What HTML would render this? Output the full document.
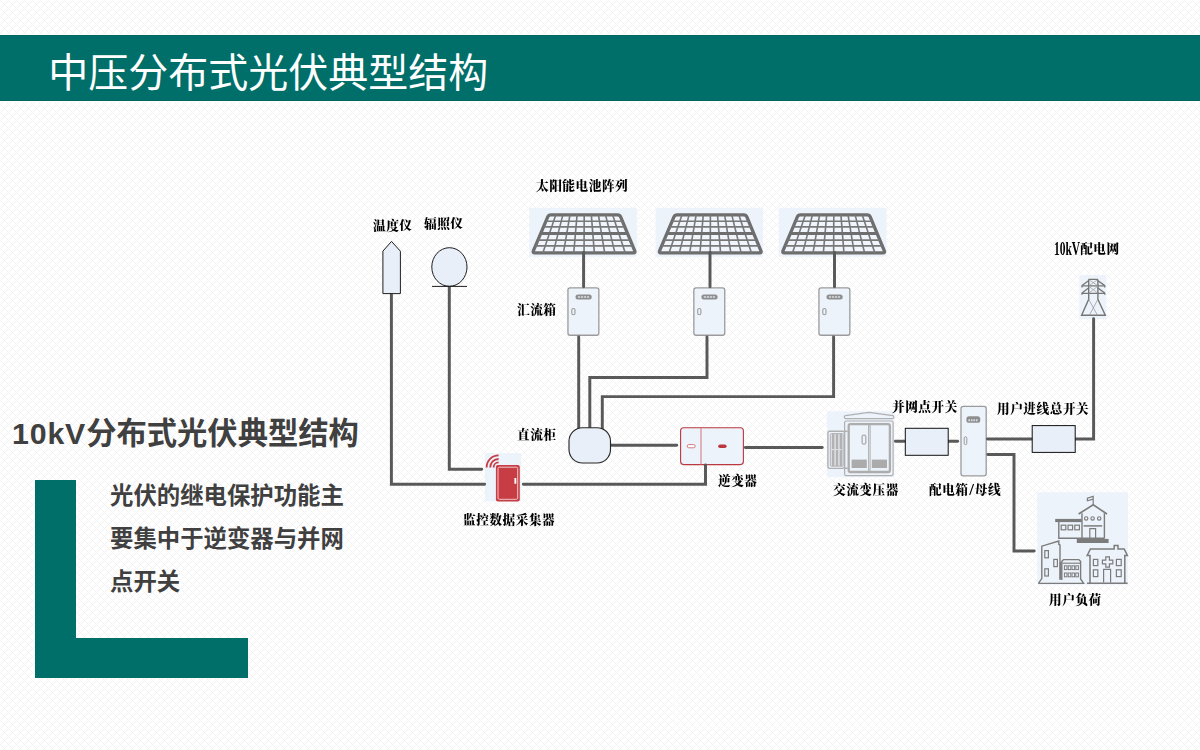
<!DOCTYPE html>
<html lang="zh-CN">
<head>
<meta charset="utf-8">
<title>中压分布式光伏典型结构</title>
<style>
html,body{margin:0;padding:0;}
body{width:1200px;height:750px;overflow:hidden;background:#fff;position:relative;
  font-family:"Liberation Sans","Noto Sans CJK SC",sans-serif;}
#bg{position:absolute;left:0;top:0;width:1200px;height:750px;}
#titlebar{position:absolute;left:0;top:34px;width:1200px;height:66px;background:#006f69;border-top:1px solid #fff;border-bottom:1px solid #fff;box-shadow:inset 0 1px 0 #00665f, inset 0 -1px 0 #00665f;}
#title{position:absolute;left:48.3px;top:37.3px;height:66px;line-height:72px;font-size:40px;color:#fff;white-space:nowrap;}
#heading{position:absolute;left:12px;top:412.3px;font-size:30.3px;line-height:44px;font-weight:700;color:#404040;white-space:nowrap;}
#heading span{letter-spacing:0.85px;}
#body{position:absolute;left:110px;top:474.5px;width:240px;font-size:23.4px;line-height:43px;font-weight:700;color:#404040;}
#body div{white-space:nowrap;}
.lv{position:absolute;left:35px;top:480px;width:41px;height:198px;background:#006f69;}
.lh{position:absolute;left:35px;top:638px;width:213px;height:40px;background:#006f69;}
.seam{position:absolute;background:rgba(255,255,255,.85);}
#diagram{position:absolute;left:0;top:0;width:1200px;height:750px;}
.lb{position:absolute;will-change:transform;font-family:"Liberation Serif","Noto Serif CJK SC",serif;font-weight:900;font-size:12.7px;letter-spacing:0.5px;line-height:16px;color:#000;white-space:nowrap;}
.kv{display:inline-block;width:26.2px;height:16px;vertical-align:top;font-size:18.5px;line-height:17.6px;letter-spacing:0;transform:scaleX(0.62);transform-origin:0 0;white-space:nowrap;}
.sl{display:inline-block;width:6.2px;height:16px;vertical-align:top;font-size:17px;line-height:15px;letter-spacing:0;text-align:center;}
</style>
</head>
<body>
<svg id="bg" width="1200" height="750" viewBox="0 0 1200 750" shape-rendering="crispEdges">
  <defs>
    <pattern id="hatch" width="8" height="8" patternUnits="userSpaceOnUse">
      <path d="M0 0h1v1h-1zM1 1h1v1h-1zM2 2h1v1h-1zM3 3h1v1h-1zM4 4h1v1h-1zM5 5h1v1h-1zM6 6h1v1h-1zM7 7h1v1h-1zM1 7h1v1h-1zM2 6h1v1h-1zM3 5h1v1h-1zM5 3h1v1h-1zM6 2h1v1h-1zM7 1h1v1h-1z" fill="#f2f2f2"/>
    </pattern>
  </defs>
  <rect width="1200" height="750" fill="#fff"/>
  <rect width="1200" height="750" fill="url(#hatch)"/>
</svg>
<div class="seam" style="left:675px;top:678px;width:525px;height:1px"></div>
<div class="seam" style="left:675px;top:726px;width:525px;height:1px"></div>
<div class="seam" style="left:675px;top:678px;width:1px;height:49px"></div>
<div id="titlebar"></div>
<div id="title">中压分布式光伏典型结构</div>
<div id="heading"><span>10kV</span>分布式光伏典型结构</div>
<div class="lv"></div><div class="lh"></div>
<div id="body"><div>光伏的继电保护功能主</div><div>要集中于逆变器与并网</div><div>点开关</div></div>
<svg id="diagram" width="1200" height="750" viewBox="0 0 1200 750">
<g transform="translate(529.8,207.8)">
<rect x="-0.5" y="-0.1" width="107.6" height="49.1" fill="#edf3fb"/>
<path d="M17.94 9.13Q18.80 7.10 21.00 7.10L87.80 7.10Q90.00 7.10 90.84 9.13L104.96 43.07Q105.80 45.10 103.60 45.10L4.90 45.10Q2.70 45.10 3.56 43.07Z" fill="#f0f5fc" stroke="#6e6e6e" stroke-width="3.3" stroke-linejoin="round"/>
<line x1="25.92" y1="7.1" x2="13.01" y2="45.1" stroke="#787878" stroke-width="1.6"/>
<line x1="33.04" y1="7.1" x2="23.32" y2="45.1" stroke="#787878" stroke-width="1.6"/>
<line x1="40.16" y1="7.1" x2="33.63" y2="45.1" stroke="#787878" stroke-width="1.6"/>
<line x1="47.28" y1="7.1" x2="43.94" y2="45.1" stroke="#787878" stroke-width="1.6"/>
<line x1="54.40" y1="7.1" x2="54.25" y2="45.1" stroke="#787878" stroke-width="1.6"/>
<line x1="61.52" y1="7.1" x2="64.56" y2="45.1" stroke="#787878" stroke-width="1.6"/>
<line x1="68.64" y1="7.1" x2="74.87" y2="45.1" stroke="#787878" stroke-width="1.6"/>
<line x1="75.76" y1="7.1" x2="85.18" y2="45.1" stroke="#787878" stroke-width="1.6"/>
<line x1="82.88" y1="7.1" x2="95.49" y2="45.1" stroke="#787878" stroke-width="1.6"/>
<line x1="16.13" y1="13.4" x2="92.62" y2="13.4" stroke="#787878" stroke-width="1.6"/>
<line x1="13.76" y1="19.0" x2="94.95" y2="19.0" stroke="#787878" stroke-width="1.7"/>
<line x1="10.92" y1="25.7" x2="97.73" y2="25.7" stroke="#6e6e6e" stroke-width="3.1"/>
<line x1="8.12" y1="32.3" x2="100.48" y2="32.3" stroke="#787878" stroke-width="1.6"/>
<line x1="5.71" y1="38.0" x2="102.85" y2="38.0" stroke="#787878" stroke-width="1.7"/>
</g>
<g transform="translate(656.0,207.8)">
<rect x="-0.5" y="-0.1" width="107.6" height="49.1" fill="#edf3fb"/>
<path d="M17.94 9.13Q18.80 7.10 21.00 7.10L87.80 7.10Q90.00 7.10 90.84 9.13L104.96 43.07Q105.80 45.10 103.60 45.10L4.90 45.10Q2.70 45.10 3.56 43.07Z" fill="#f0f5fc" stroke="#6e6e6e" stroke-width="3.3" stroke-linejoin="round"/>
<line x1="25.92" y1="7.1" x2="13.01" y2="45.1" stroke="#787878" stroke-width="1.6"/>
<line x1="33.04" y1="7.1" x2="23.32" y2="45.1" stroke="#787878" stroke-width="1.6"/>
<line x1="40.16" y1="7.1" x2="33.63" y2="45.1" stroke="#787878" stroke-width="1.6"/>
<line x1="47.28" y1="7.1" x2="43.94" y2="45.1" stroke="#787878" stroke-width="1.6"/>
<line x1="54.40" y1="7.1" x2="54.25" y2="45.1" stroke="#787878" stroke-width="1.6"/>
<line x1="61.52" y1="7.1" x2="64.56" y2="45.1" stroke="#787878" stroke-width="1.6"/>
<line x1="68.64" y1="7.1" x2="74.87" y2="45.1" stroke="#787878" stroke-width="1.6"/>
<line x1="75.76" y1="7.1" x2="85.18" y2="45.1" stroke="#787878" stroke-width="1.6"/>
<line x1="82.88" y1="7.1" x2="95.49" y2="45.1" stroke="#787878" stroke-width="1.6"/>
<line x1="16.13" y1="13.4" x2="92.62" y2="13.4" stroke="#787878" stroke-width="1.6"/>
<line x1="13.76" y1="19.0" x2="94.95" y2="19.0" stroke="#787878" stroke-width="1.7"/>
<line x1="10.92" y1="25.7" x2="97.73" y2="25.7" stroke="#6e6e6e" stroke-width="3.1"/>
<line x1="8.12" y1="32.3" x2="100.48" y2="32.3" stroke="#787878" stroke-width="1.6"/>
<line x1="5.71" y1="38.0" x2="102.85" y2="38.0" stroke="#787878" stroke-width="1.7"/>
</g>
<g transform="translate(779.4,207.8)">
<rect x="-0.5" y="-0.1" width="107.6" height="49.1" fill="#edf3fb"/>
<path d="M17.94 9.13Q18.80 7.10 21.00 7.10L87.80 7.10Q90.00 7.10 90.84 9.13L104.96 43.07Q105.80 45.10 103.60 45.10L4.90 45.10Q2.70 45.10 3.56 43.07Z" fill="#f0f5fc" stroke="#6e6e6e" stroke-width="3.3" stroke-linejoin="round"/>
<line x1="25.92" y1="7.1" x2="13.01" y2="45.1" stroke="#787878" stroke-width="1.6"/>
<line x1="33.04" y1="7.1" x2="23.32" y2="45.1" stroke="#787878" stroke-width="1.6"/>
<line x1="40.16" y1="7.1" x2="33.63" y2="45.1" stroke="#787878" stroke-width="1.6"/>
<line x1="47.28" y1="7.1" x2="43.94" y2="45.1" stroke="#787878" stroke-width="1.6"/>
<line x1="54.40" y1="7.1" x2="54.25" y2="45.1" stroke="#787878" stroke-width="1.6"/>
<line x1="61.52" y1="7.1" x2="64.56" y2="45.1" stroke="#787878" stroke-width="1.6"/>
<line x1="68.64" y1="7.1" x2="74.87" y2="45.1" stroke="#787878" stroke-width="1.6"/>
<line x1="75.76" y1="7.1" x2="85.18" y2="45.1" stroke="#787878" stroke-width="1.6"/>
<line x1="82.88" y1="7.1" x2="95.49" y2="45.1" stroke="#787878" stroke-width="1.6"/>
<line x1="16.13" y1="13.4" x2="92.62" y2="13.4" stroke="#787878" stroke-width="1.6"/>
<line x1="13.76" y1="19.0" x2="94.95" y2="19.0" stroke="#787878" stroke-width="1.7"/>
<line x1="10.92" y1="25.7" x2="97.73" y2="25.7" stroke="#6e6e6e" stroke-width="3.1"/>
<line x1="8.12" y1="32.3" x2="100.48" y2="32.3" stroke="#787878" stroke-width="1.6"/>
<line x1="5.71" y1="38.0" x2="102.85" y2="38.0" stroke="#787878" stroke-width="1.7"/>
</g>
<g transform="translate(567.3,287.2)">
<rect x="0.65" y="0.65" width="30.9" height="47.4" rx="2.2" fill="#edf3fb" stroke="#9b9b9b" stroke-width="1.3"/>
<rect x="8.2" y="7.4" width="16.2" height="5" rx="2.5" fill="#8e8e8e"/>
<path d="M10.6 9.9h11.4" stroke="#d9dde2" stroke-width="1.5" stroke-dasharray="2.2 0.8" fill="none"/>
<rect x="4.5" y="21.3" width="3.2" height="6.3" rx="1.6" fill="#edf3fb" stroke="#9b9b9b" stroke-width="1.1"/>
</g>
<g transform="translate(693.2,287.2)">
<rect x="0.65" y="0.65" width="30.9" height="47.4" rx="2.2" fill="#edf3fb" stroke="#9b9b9b" stroke-width="1.3"/>
<rect x="8.2" y="7.4" width="16.2" height="5" rx="2.5" fill="#8e8e8e"/>
<path d="M10.6 9.9h11.4" stroke="#d9dde2" stroke-width="1.5" stroke-dasharray="2.2 0.8" fill="none"/>
<rect x="4.5" y="21.3" width="3.2" height="6.3" rx="1.6" fill="#edf3fb" stroke="#9b9b9b" stroke-width="1.1"/>
</g>
<g transform="translate(818.3,287.2)">
<rect x="0.65" y="0.65" width="30.9" height="47.4" rx="2.2" fill="#edf3fb" stroke="#9b9b9b" stroke-width="1.3"/>
<rect x="8.2" y="7.4" width="16.2" height="5" rx="2.5" fill="#8e8e8e"/>
<path d="M10.6 9.9h11.4" stroke="#d9dde2" stroke-width="1.5" stroke-dasharray="2.2 0.8" fill="none"/>
<rect x="4.5" y="21.3" width="3.2" height="6.3" rx="1.6" fill="#edf3fb" stroke="#9b9b9b" stroke-width="1.1"/>
</g>
<g>
<rect x="484.7" y="453" width="36.3" height="48.3" fill="#edf3fb"/>
<path d="M486.6 467.4A12 12 0 0 1 498.6 455.4" fill="none" stroke="#c83c44" stroke-width="1.8" stroke-linecap="butt"/>
<path d="M490.2 467.4A8.4 8.4 0 0 1 498.6 459" fill="none" stroke="#c83c44" stroke-width="1.8" stroke-linecap="butt"/>
<path d="M493.6 467.4A5 5 0 0 1 498.6 462.4" fill="none" stroke="#c83c44" stroke-width="1.8" stroke-linecap="butt"/>
<rect x="495.9" y="465.1" width="23.9" height="36.3" rx="2" fill="#c83c44"/>
<rect x="498" y="467.2" width="19.7" height="32.1" rx="1.4" fill="none" stroke="#f6dfe1" stroke-width="0.85"/>
<rect x="514.4" y="478" width="1.9" height="5.8" rx="0.5" fill="#fff"/>
</g>
<g>
<rect x="680.6" y="427.8" width="62.8" height="36.8" rx="3" fill="#edf3fb" stroke="#b9393f" stroke-width="1.1"/>
<path d="M701 428V464.5" stroke="#d9878b" stroke-width="1.2" fill="none"/>
<rect x="687.2" y="444.6" width="8" height="3.2" rx="1.6" fill="#fff" stroke="#d06c71" stroke-width="0.9"/>
<rect x="718.2" y="444.4" width="8.4" height="3.6" rx="1.8" fill="#b9393f"/>
</g>
<g>
<rect x="826.9" y="411.3" width="67.5" height="65.8" fill="#edf3fb"/>
<path d="M845.6 418.6H892.6Q893.8 418.6 893.8 417.4V416.6Q893.8 415.7 892.8 415.6L869 412.4L845.4 415.6Q844.4 415.7 844.4 416.6V417.4Q844.4 418.6 845.6 418.6Z" fill="#edf3fb" stroke="#b0b0b0" stroke-width="1.2" stroke-linejoin="round"/>
<rect x="844.6" y="421" width="48.5" height="54.6" rx="1.6" fill="#edf3fb" stroke="#b0b0b0" stroke-width="1.2"/>
<path d="M844 431.3H847.6M844 468.3H847.6" stroke="#b0b0b0" stroke-width="1.6" fill="none"/>
<rect x="827.9" y="431.2" width="16.6" height="37.2" rx="1.8" fill="#edf3fb" stroke="#b0b0b0" stroke-width="1.4"/>
<rect x="830.3" y="433.6" width="12.9" height="32.6" rx="1" fill="#edf3fb" stroke="#b0b0b0" stroke-width="1"/>
<path d="M833.1 434V466M837 434V466M840.9 434V466" stroke="#b2b2b2" stroke-width="2.8" fill="none"/>
<path d="M831.5 449.6H842.4" stroke="#e6e9ee" stroke-width="1" stroke-dasharray="2.6 1" fill="none"/>
<rect x="848.7" y="424.2" width="41.2" height="47.8" rx="1.8" fill="#edf3fb" stroke="#adadad" stroke-width="2.3"/>
<path d="M869.3 424.2V472" stroke="#adadad" stroke-width="2.6" fill="none"/>
<path d="M869.3 425.4V470.8" stroke="#e3e7ec" stroke-width="0.8" fill="none"/>
<rect x="862.1" y="435.1" width="3.7" height="9" rx="1.7" fill="#edf3fb" stroke="#adadad" stroke-width="1.3"/>
<rect x="851.6" y="459.6" width="15.2" height="8.4" fill="#ababab"/>
<rect x="871.8" y="459.6" width="15.2" height="8.4" fill="#ababab"/>
</g>
<g>
<rect x="961" y="406.4" width="25.2" height="69.4" rx="2.2" fill="#edf3fb" stroke="#9b9b9b" stroke-width="1.3"/>
<rect x="966.4" y="416.2" width="13.8" height="6.6" rx="2.6" fill="#8e8e8e"/>
<path d="M968.4 420.2h9.8" stroke="#d9dde2" stroke-width="2" stroke-dasharray="1.6 0.9" fill="none"/>
<rect x="964.2" y="436.8" width="2.6" height="7.8" rx="1.3" fill="#edf3fb" stroke="#9b9b9b" stroke-width="1"/>
</g>
<g fill="none" stroke="#767676" stroke-width="1.4" stroke-linejoin="miter">
<rect x="1079.3" y="275" width="27" height="44" fill="#edf3fb" stroke="none"/>
<path d="M1088.4 279.4H1098M1088.7 279.4V299.3L1081.6 315.3H1105.3L1097.9 299.3V279.4"/>
<path d="M1082 287.4V285.9H1104.8V287.4M1082 294.8V293.3H1104.8V294.8" stroke-width="1.3"/>
<path d="M1088.5 280.7L1082 285.6M1098 280.7L1104.8 285.6M1088.5 288.1L1082 293M1098 288.1L1104.8 293" stroke-width="1.3"/>
<path d="M1089 279.8L1097.6 285.6M1097.6 279.8L1089 285.6M1089 286.4L1097.6 293M1097.6 286.4L1089 293" stroke-width="0.7" stroke="#9a9a9a"/>
<path d="M1088.7 299.3L1097.4 315.2M1097.9 299.3L1089.4 315.2" stroke-width="0.7" stroke="#8f8f8f"/>
</g>
<g fill="none" stroke="#7c7c7c" stroke-width="1.4" stroke-linejoin="miter">
<rect x="1037.3" y="492.3" width="90.7" height="92.4" fill="#edf3fb" stroke="none"/>
<!-- school -->
<path d="M1093.2 504.8V496.4L1087.4 498.2V500.8L1093.2 499.2" stroke-width="1.2"/>
<path d="M1078.6 514L1093.2 504.8L1107 514" stroke-width="1.6"/>
<path d="M1082 513.2V538.4M1104.4 513.2V538.4"/>
<circle cx="1086.2" cy="518.4" r="1.7" stroke-width="1.15"/>
<circle cx="1092.6" cy="518.4" r="1.7" stroke-width="1.15"/>
<circle cx="1099.2" cy="518.4" r="1.7" stroke-width="1.15"/>
<path d="M1083.6 525.9H1102.2" stroke-width="1.5"/>
<path d="M1089.8 538V528.6H1095.6V538" stroke-width="1.2"/>
<rect x="1055.2" y="518.9" width="26.6" height="3.2" fill="#7c7c7c" stroke="none"/>
<path d="M1058.8 522V538.3H1104.4"/>
<rect x="1061.2" y="525.2" width="4.6" height="4.6" stroke-width="1.2"/>
<rect x="1068" y="525.2" width="4.6" height="4.6" stroke-width="1.2"/>
<rect x="1074.8" y="525.2" width="4.6" height="4.6" stroke-width="1.2"/>
<rect x="1076.8" y="538.9" width="31.8" height="4.1" fill="#7c7c7c" stroke="none"/>
<!-- tall building -->
<path d="M1038.6 583.2L1041.8 578.6V546.2L1058.8 541V544.4L1060 545V580"/>
<path d="M1038.2 583.4H1083.6L1080.6 579V561.4L1078.8 559.6H1063.6L1061.8 561.4V580" />
<path d="M1060.6 562V579" stroke-width="1.8"/>
<rect x="1044.8" y="550.6" width="3.6" height="7.2" stroke-width="1.2"/>
<rect x="1053.8" y="559.4" width="3.6" height="7.2" stroke-width="1.2"/>
<rect x="1044.8" y="568.8" width="3.6" height="7.2" stroke-width="1.2"/>
<path d="M1062.4 563.2H1080" stroke-width="1.15"/>
<rect x="1064.4" y="565.8" width="2.6" height="3.8" stroke-width="1.0"/>
<rect x="1068.2" y="565.8" width="2.6" height="3.8" stroke-width="1.0"/>
<rect x="1072" y="565.8" width="2.6" height="3.8" stroke-width="1.0"/>
<rect x="1075.8" y="565.8" width="2.6" height="3.8" stroke-width="1.0"/>
<rect x="1064.4" y="573" width="2.6" height="3.8" stroke-width="1.0"/>
<rect x="1068.2" y="573" width="2.6" height="3.8" stroke-width="1.0"/>
<rect x="1072" y="573" width="2.6" height="3.8" stroke-width="1.0"/>
<rect x="1075.8" y="573" width="2.6" height="3.8" stroke-width="1.0"/>
<!-- hospital -->
<path d="M1087 583.2H1127.6M1090 582.6V555.4H1087.2L1090.4 549H1114.2V545.6H1118V549H1124.2L1127.4 555.4H1124.8V582.6" stroke-width="1.5"/>
<rect x="1093.4" y="559.4" width="4.4" height="6.2" stroke-width="1.2"/>
<rect x="1116.4" y="559.4" width="4.8" height="6.2" stroke-width="1.2"/>
<rect x="1093.4" y="569.8" width="4.4" height="6.8" stroke-width="1.2"/>
<rect x="1116.4" y="569.8" width="4.8" height="6.8" stroke-width="1.2"/>
<path d="M1105.8 556.8H1109.4V560.2H1112.8V563.8H1109.4V567.2H1105.8V563.8H1102.4V560.2H1105.8Z" stroke-width="1.2"/>
<path d="M1103.6 582.6V569.4H1110.6V582.6" stroke-width="1.2"/>
</g>
<path d="M391.4 293V484.3H484.6" fill="none" stroke="#595959" stroke-width="2.95" stroke-linejoin="miter" stroke-linecap="round"/>
<path d="M449.3 287V469.3H481.7" fill="none" stroke="#595959" stroke-width="2.95" stroke-linejoin="miter" stroke-linecap="round"/>
<path d="M583.6 252.4V286.8" fill="none" stroke="#595959" stroke-width="2.95" stroke-linejoin="miter" stroke-linecap="round"/>
<path d="M710 252.4V286.8" fill="none" stroke="#595959" stroke-width="2.95" stroke-linejoin="miter" stroke-linecap="round"/>
<path d="M834.5 252.4V286.8" fill="none" stroke="#595959" stroke-width="2.95" stroke-linejoin="miter" stroke-linecap="round"/>
<path d="M578.7 337V429" fill="none" stroke="#595959" stroke-width="2.95" stroke-linejoin="miter" stroke-linecap="round"/>
<path d="M707 337V377.5H589.8V429" fill="none" stroke="#595959" stroke-width="2.95" stroke-linejoin="miter" stroke-linecap="round"/>
<path d="M833.6 337V396.6H602.3V429" fill="none" stroke="#595959" stroke-width="2.95" stroke-linejoin="miter" stroke-linecap="round"/>
<path d="M611.6 445.3H676.7" fill="none" stroke="#595959" stroke-width="2.95" stroke-linejoin="miter" stroke-linecap="round"/>
<path d="M745.4 447.5H822.2" fill="none" stroke="#595959" stroke-width="2.95" stroke-linejoin="miter" stroke-linecap="round"/>
<path d="M523.3 484.3H705.5V465" fill="none" stroke="#595959" stroke-width="2.95" stroke-linejoin="miter" stroke-linecap="round"/>
<path d="M895.5 441.2H906" fill="none" stroke="#595959" stroke-width="2.95" stroke-linejoin="miter" stroke-linecap="round"/>
<path d="M947.5 441.2H957.6" fill="none" stroke="#595959" stroke-width="2.95" stroke-linejoin="miter" stroke-linecap="round"/>
<path d="M987.5 439H1033" fill="none" stroke="#595959" stroke-width="2.95" stroke-linejoin="miter" stroke-linecap="round"/>
<path d="M1074.5 439H1093.6V318.8" fill="none" stroke="#595959" stroke-width="2.95" stroke-linejoin="miter" stroke-linecap="round"/>
<path d="M987.8 454.5H1014V551H1034.2" fill="none" stroke="#595959" stroke-width="2.95" stroke-linejoin="miter" stroke-linecap="round"/>
<path d="M382.9 293.6V251.2L391.5 241.4L400.4 251.2V293.6Z" fill="#e9eff8" stroke="#1e1e1e" stroke-width="1"/>
<ellipse cx="449.4" cy="267" rx="17.6" ry="19.3" fill="#e9eff8" stroke="#1e1e1e" stroke-width="1"/>
<path d="M432 286.4H467" stroke="#1e1e1e" stroke-width="1" fill="none"/>
<rect x="569" y="427.7" width="41.5" height="35.3" rx="13.5" ry="13.5" fill="#e9eff8" stroke="#262626" stroke-width="1.15"/>
<rect x="905.3" y="428.3" width="42.9" height="27" fill="#e9eff8" stroke="#111" stroke-width="1"/>
<rect x="1032.2" y="425.6" width="43" height="26.8" fill="#e9eff8" stroke="#111" stroke-width="1"/>
</svg>
<div class="lb" style="left:536.30px;top:178.40px">太阳能电池阵列</div>
<div class="lb" style="left:372.75px;top:217.50px">温度仪</div>
<div class="lb" style="left:424.35px;top:216.40px">辐照仪</div>
<div class="lb" style="left:516.70px;top:301.90px">汇流箱</div>
<div class="lb" style="left:516.95px;top:427.40px">直流柜</div>
<div class="lb" style="left:463.30px;top:511.65px">监控数据采集器</div>
<div class="lb" style="left:718.20px;top:473.40px">逆变器</div>
<div class="lb" style="left:832.85px;top:481.90px">交流变压器</div>
<div class="lb" style="left:891.75px;top:399.00px">并网点开关</div>
<div class="lb" style="left:929.46px;top:481.90px">配电箱<span class="sl">/</span>母线</div>
<div class="lb" style="left:996.55px;top:401.15px">用户进线总开关</div>
<div class="lb" style="left:1053.88px;top:241.15px"><span class="kv">10kV</span>配电网</div>
<div class="lb" style="left:1048.95px;top:591.90px">用户负荷</div>
</body>
</html>
